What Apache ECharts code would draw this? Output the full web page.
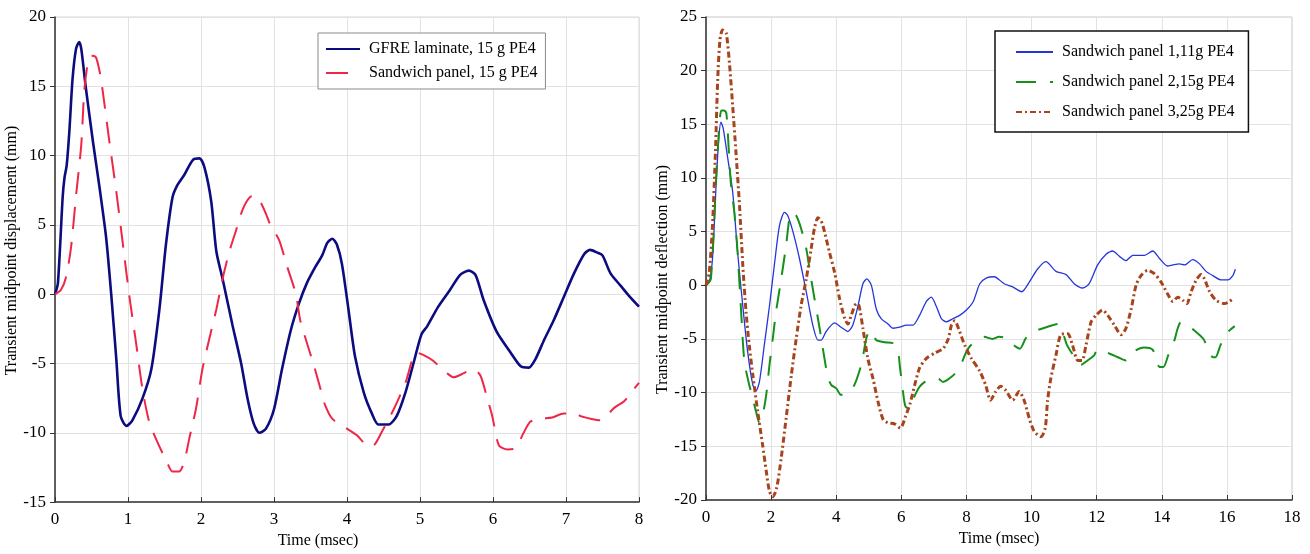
<!DOCTYPE html>
<html>
<head>
<meta charset="utf-8">
<script src="https://cdn.jsdelivr.net/npm/echarts@6/dist/echarts.min.js"></script>
<style>
html,body{margin:0;padding:0;background:#fff;}
#c{width:1310px;height:554px;}
</style>
</head>
<body>
<div id="c"></div>
<script>
// ---------- DATA ----------
const leftTicksX = [0, 8, 1];
const leftTicksY = [-15, 20, 5];
const rightTicksX = [0, 18, 2];
const rightTicksY = [-20, 25, 5];

const leftNames = ['GFRE laminate, 15 g PE4', 'Sandwich panel, 15 g PE4'];
const rightNames = ['Sandwich panel 1,11g PE4', 'Sandwich panel 2,15g PE4', 'Sandwich panel 3,25g PE4'];

const gfre15 = [[0,0],[0.04,0.8],[0.105,7.0],[0.13,8.4],[0.16,9.3],[0.196,11.7],[0.24,15.5],[0.288,17.7],[0.33,18.2],[0.36,17.7],[0.42,15.0],[0.52,11.0],[0.61,7.7],[0.7,4.1],[0.77,0.0],[0.84,-4.7],[0.9,-8.8],[0.98,-9.5],[1.06,-9.1],[1.2,-7.5],[1.32,-5.4],[1.43,-1.1],[1.52,3.6],[1.61,7.0],[1.68,7.9],[1.77,8.6],[1.89,9.7],[1.98,9.8],[2.05,9.1],[2.14,6.7],[2.21,3.1],[2.3,1.0],[2.43,-2.2],[2.55,-5.0],[2.64,-7.6],[2.72,-9.3],[2.8,-10.0],[2.89,-9.7],[3.0,-8.3],[3.11,-5.4],[3.23,-2.6],[3.34,-0.7],[3.45,0.8],[3.57,2.0],[3.66,2.8],[3.73,3.7],[3.8,4.0],[3.86,3.6],[3.93,2.2],[4.02,-1.1],[4.11,-4.5],[4.23,-7.1],[4.34,-8.6],[4.43,-9.4],[4.57,-9.4],[4.68,-8.8],[4.8,-7.1],[4.91,-5.0],[5.02,-2.9],[5.1,-2.3],[5.25,-0.9],[5.41,0.3],[5.55,1.4],[5.67,1.7],[5.76,1.4],[5.87,-0.4],[6.05,-2.7],[6.24,-4.2],[6.38,-5.2],[6.49,-5.3],[6.58,-4.7],[6.7,-3.3],[6.83,-1.9],[6.97,-0.2],[7.11,1.5],[7.25,2.9],[7.33,3.2],[7.43,3.0],[7.5,2.8],[7.61,1.5],[7.75,0.6],[7.86,-0.1],[8.0,-0.9]];

const sandwich15 = [[0,0],[0.08,0.3],[0.15,1.2],[0.22,3.4],[0.29,7.2],[0.36,10.8],[0.4,14.6],[0.45,16.7],[0.5,17.2],[0.56,17.1],[0.61,16.1],[0.65,14.8],[0.74,11.2],[0.84,7.4],[0.93,3.6],[1.02,-0.2],[1.11,-3.5],[1.2,-6.9],[1.29,-9.2],[1.38,-10.4],[1.54,-12.2],[1.61,-12.8],[1.7,-12.8],[1.77,-12.1],[1.84,-10.4],[1.93,-8.3],[2.02,-5.4],[2.11,-3.3],[2.21,-1.1],[2.3,1.2],[2.39,3.1],[2.48,4.6],[2.57,6.1],[2.67,7.0],[2.75,7.1],[2.82,6.6],[2.89,5.8],[2.95,5.0],[3.07,3.9],[3.18,2.0],[3.3,0.0],[3.36,-1.9],[3.45,-3.5],[3.55,-5.2],[3.64,-6.9],[3.7,-8.0],[3.8,-9.0],[4.0,-9.7],[4.14,-10.2],[4.23,-10.7],[4.34,-11.0],[4.5,-9.7],[4.64,-8.3],[4.8,-6.4],[4.95,-4.2],[5.05,-4.4],[5.18,-4.8],[5.28,-5.3],[5.37,-5.7],[5.46,-6.0],[5.6,-5.7],[5.73,-5.4],[5.83,-5.9],[5.92,-7.5],[5.99,-8.8],[6.08,-10.9],[6.2,-11.2],[6.31,-11.1],[6.42,-10.0],[6.51,-9.2],[6.65,-9.0],[6.81,-8.9],[6.97,-8.6],[7.13,-8.6],[7.2,-8.8],[7.35,-9.0],[7.47,-9.1],[7.66,-8.2],[7.8,-7.7],[7.92,-6.9],[8.0,-6.4]];

const panel1 = [[0,0],[0.1,0.3],[0.2,2.5],[0.31,9.3],[0.39,13.6],[0.46,15.2],[0.53,14.6],[0.67,11.8],[0.82,8.7],[0.97,3.1],[1.13,-1.9],[1.28,-6.2],[1.44,-9.3],[1.54,-9.8],[1.64,-9.0],[1.79,-5.6],[1.95,-1.9],[2.1,1.9],[2.26,5.6],[2.41,6.8],[2.51,6.5],[2.67,5.0],[2.87,2.5],[3.08,-0.6],[3.28,-3.7],[3.44,-5.1],[3.54,-5.1],[3.69,-4.3],[3.95,-3.5],[4.15,-3.9],[4.36,-4.3],[4.51,-3.7],[4.67,-1.9],[4.82,0.15],[4.94,0.6],[5.08,0.0],[5.23,-2.2],[5.38,-3.1],[5.59,-3.6],[5.74,-4.0],[5.95,-3.9],[6.15,-3.7],[6.36,-3.7],[6.56,-2.8],[6.77,-1.5],[6.92,-1.1],[7.08,-2.0],[7.23,-3.1],[7.38,-3.4],[7.59,-3.1],[7.79,-2.8],[8.0,-2.3],[8.21,-1.5],[8.41,0.15],[8.62,0.7],[8.85,0.8],[9.16,0.15],[9.42,-0.15],[9.7,-0.6],[9.93,0.3],[10.18,1.5],[10.44,2.2],[10.75,1.3],[11.06,1.0],[11.31,0.15],[11.57,-0.25],[11.77,0.15],[12.03,1.9],[12.29,2.9],[12.49,3.2],[12.7,2.7],[12.9,2.3],[13.11,2.8],[13.31,2.8],[13.47,2.8],[13.72,3.2],[13.93,2.5],[14.18,1.8],[14.34,1.9],[14.54,2.0],[14.7,1.9],[14.95,2.4],[15.16,2.0],[15.36,1.3],[15.57,0.9],[15.83,0.5],[16.03,0.5],[16.18,0.9],[16.26,1.5]];

const panel2 = [[0,0],[0.15,0.6],[0.31,9.9],[0.4,14.5],[0.47,16.3],[0.55,16.3],[0.62,16.1],[0.67,14.2],[0.72,11.5],[0.77,9.3],[0.87,6.8],[0.97,3.1],[1.08,-2.5],[1.18,-7.1],[1.33,-9.3],[1.54,-11.8],[1.64,-12.8],[1.74,-12.1],[1.85,-10.2],[1.95,-7.4],[2.05,-5.0],[2.15,-2.5],[2.31,0.6],[2.46,3.7],[2.56,6.2],[2.65,6.8],[2.77,6.5],[2.92,5.3],[3.08,3.4],[3.23,0.6],[3.33,-1.2],[3.49,-4.0],[3.59,-5.9],[3.74,-8.5],[3.85,-9.3],[4.0,-9.6],[4.15,-10.2],[4.33,-10.0],[4.51,-9.6],[4.77,-7.4],[4.92,-5.0],[5.03,-4.2],[5.13,-4.5],[5.23,-5.1],[5.5,-5.3],[5.74,-5.4],[5.9,-6.2],[5.95,-7.4],[6.05,-9.9],[6.13,-11.3],[6.26,-11.5],[6.38,-10.5],[6.55,-9.5],[6.72,-9.0],[6.92,-8.7],[7.13,-8.7],[7.28,-9.0],[7.55,-8.5],[7.79,-7.7],[7.95,-6.5],[8.1,-5.7],[8.35,-5.1],[8.54,-4.8],[8.8,-5.0],[9.0,-4.8],[9.19,-4.9],[9.42,-5.5],[9.64,-5.9],[9.83,-4.9],[10.08,-4.3],[10.45,-3.9],[10.8,-3.6],[10.95,-4.3],[11.08,-5.5],[11.3,-6.6],[11.52,-7.4],[11.72,-7.0],[11.93,-6.5],[12.01,-6.0],[12.35,-6.3],[12.65,-6.7],[12.9,-7.0],[13.06,-6.6],[13.18,-6.1],[13.45,-5.8],[13.72,-6.0],[13.83,-7.0],[13.93,-7.6],[14.05,-7.6],[14.2,-6.5],[14.39,-5.1],[14.49,-4.0],[14.59,-3.4],[14.67,-3.5],[15.0,-4.2],[15.28,-5.0],[15.42,-5.9],[15.57,-6.7],[15.65,-6.7],[15.8,-5.6],[15.98,-4.5],[16.24,-3.8]];

const panel3 = [[0,0],[0.1,1.2],[0.2,5.6],[0.29,12.4],[0.36,19.2],[0.43,22.9],[0.51,23.8],[0.62,23.5],[0.72,20.7],[0.82,16.7],[0.92,12.4],[1.03,7.4],[1.13,1.9],[1.23,-2.5],[1.33,-5.6],[1.44,-8.4],[1.59,-11.8],[1.74,-14.9],[1.85,-17.3],[1.95,-19.2],[2.05,-19.7],[2.17,-18.9],[2.31,-16.1],[2.46,-12.4],[2.62,-8.4],[2.77,-5.0],[2.92,-1.9],[3.08,0.6],[3.23,3.4],[3.33,5.3],[3.44,6.3],[3.54,6.0],[3.64,5.0],[3.79,3.1],[3.95,1.2],[4.1,-1.2],[4.26,-3.1],[4.36,-3.6],[4.46,-2.8],[4.62,-1.7],[4.7,-1.9],[4.82,-4.0],[4.97,-6.8],[5.13,-8.7],[5.28,-10.8],[5.44,-12.5],[5.59,-12.8],[5.79,-12.9],[5.97,-13.3],[6.13,-12.2],[6.27,-11.0],[6.41,-9.3],[6.56,-7.7],[6.77,-6.8],[7.03,-6.3],[7.28,-5.9],[7.44,-5.0],[7.54,-3.7],[7.64,-3.3],[7.79,-4.3],[7.95,-5.6],[8.15,-6.8],[8.41,-8.0],[8.59,-9.3],[8.74,-10.7],[8.9,-9.9],[9.05,-9.4],[9.21,-9.8],[9.42,-10.7],[9.62,-9.9],[9.77,-10.7],[9.93,-12.4],[10.08,-13.6],[10.29,-14.1],[10.42,-13.3],[10.49,-10.8],[10.59,-8.7],[10.75,-6.5],[10.9,-4.6],[11.11,-4.5],[11.26,-5.6],[11.42,-7.0],[11.55,-7.0],[11.67,-5.6],[11.83,-3.4],[11.98,-2.8],[12.18,-2.3],[12.34,-2.8],[12.54,-3.7],[12.75,-4.6],[12.9,-4.0],[13.06,-2.2],[13.21,0.0],[13.36,0.9],[13.57,1.4],[13.77,1.1],[13.98,0.3],[14.18,-0.8],[14.34,-1.5],[14.49,-1.1],[14.65,-1.4],[14.77,-1.7],[14.9,-0.6],[15.06,0.5],[15.21,1.0],[15.31,0.6],[15.47,-0.6],[15.67,-1.4],[15.93,-1.7],[16.08,-1.5],[16.2,-1.2]];

// ---------- CHART ----------
const FONT = 'Liberation Serif';
const chart = echarts.init(document.getElementById('c'), null, {renderer: 'canvas'});

function xAxisCfg(gi, t, namePad, gap) {
  return {
    type: 'value', gridIndex: gi, min: t[0], max: t[1], interval: t[2],
    name: 'Time (msec)', nameLocation: 'middle', nameGap: gap,
    nameTextStyle: {fontFamily: FONT, fontSize: 16, color: '#000', padding: namePad},
    axisLine: {show: true, onZero: false, lineStyle: {color: '#333', width: 1.5}},
    axisTick: {show: true, inside: true, length: 5, lineStyle: {color: '#333'}},
    axisLabel: {fontFamily: FONT, fontSize: 17, color: '#000', margin: 9},
    splitLine: {show: true, lineStyle: {color: '#e2e2e2', width: 1}}
  };
}
function yAxisCfg(gi, t, name, namePad, gap) {
  return {
    type: 'value', gridIndex: gi, min: t[0], max: t[1], interval: t[2],
    name: name, nameLocation: 'middle', nameGap: gap, nameRotate: 90,
    nameTextStyle: {fontFamily: FONT, fontSize: 16, color: '#000', padding: namePad},
    axisLine: {show: true, onZero: false, lineStyle: {color: '#333', width: 1.5}},
    axisTick: {show: true, inside: false, length: 5, lineStyle: {color: '#333'}},
    axisLabel: {fontFamily: FONT, fontSize: 17, color: '#000', margin: 9},
    splitLine: {show: true, lineStyle: {color: '#e2e2e2', width: 1}}
  };
}
function lineSeries(name, data, xi, color, width, type) {
  return {
    type: 'line', name: name, data: data, xAxisIndex: xi, yAxisIndex: xi,
    showSymbol: false, symbol: 'none', smooth: 0.25, animation: false,
    lineStyle: {color: color, width: width, type: type},
    itemStyle: {color: color}
  };
}

const option = {
  backgroundColor: '#fff',
  animation: false,
  grid: [
    {left: 55, top: 17, width: 584, height: 487, show: true, borderColor: '#d8d8d8', borderWidth: 1},
    {left: 706, top: 17, width: 586, height: 483, show: true, borderColor: '#c8c8c8', borderWidth: 1}
  ],
  xAxis: [
    xAxisCfg(0, leftTicksX, [0, 58, 0, 0], 30),
    xAxisCfg(1, rightTicksX, [0, 0, 0, 0], 31)
  ],
  yAxis: [
    yAxisCfg(0, leftTicksY, 'Transient midpoint displacement (mm)', [0, 0, 0, 18], 29),
    yAxisCfg(1, rightTicksY, 'Transient midpoint deflection (mm)', [0, 42, 0, 0], 35)
  ],
  legend: [
    {
      data: leftNames, orient: 'vertical', left: 318, top: 33,
      padding: [6, 8, 6, 7], itemGap: 4, itemWidth: 34, itemHeight: 14,
      backgroundColor: '#fff', borderColor: '#8a8a8a', borderWidth: 1,
      itemStyle: {opacity: 0},
      textStyle: {fontFamily: FONT, fontSize: 16, color: '#000', lineHeight: 20, padding: [0, 0, 0, 4]}
    },
    {
      data: rightNames, orient: 'vertical', left: 995, top: 31,
      padding: [11, 14, 10, 20], itemGap: 10, itemWidth: 37, itemHeight: 14,
      backgroundColor: '#fff', borderColor: '#111', borderWidth: 1.5,
      itemStyle: {opacity: 0},
      textStyle: {fontFamily: FONT, fontSize: 16, color: '#000', lineHeight: 20, padding: [0, 0, 0, 4]}
    }
  ],
  series: [
    lineSeries(leftNames[0], gfre15, 0, '#0c0c80', 2.6, 'solid'),
    lineSeries(leftNames[1], sandwich15, 0, '#ee2648', 2, [22, 13]),
    lineSeries(rightNames[0], panel1, 1, '#2436d8', 1.3, 'solid'),
    lineSeries(rightNames[1], panel2, 1, '#16901b', 2, [20, 14]),
    lineSeries(rightNames[2], panel3, 1, '#a8441c', 3, [6, 3, 2, 3])
  ]
};
chart.setOption(option);
</script>
</body>
</html>
